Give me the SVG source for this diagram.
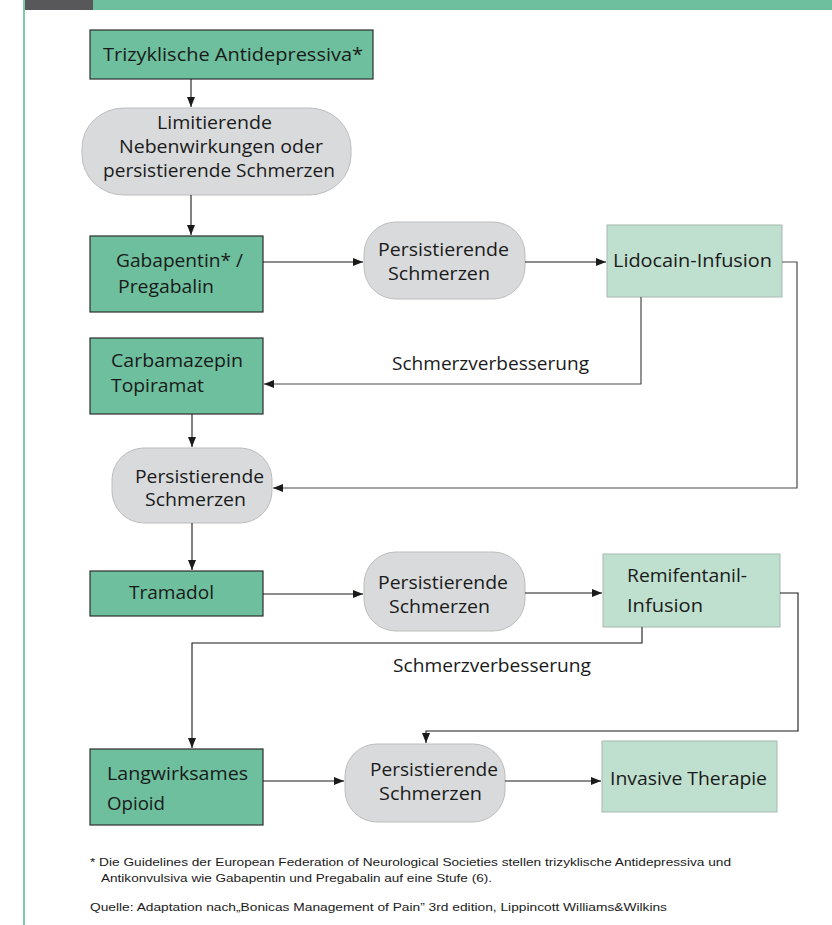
<svg xmlns="http://www.w3.org/2000/svg" width="832" height="925" viewBox="0 0 832 925">
<style>
.t{font-family:"Open Sans","Noto Sans",sans-serif;font-size:18.5px;fill:#1a1a1a}
.f{font-family:"Liberation Sans","DejaVu Sans",sans-serif;font-size:11.5px;fill:#1a1a1a}
.dg{fill:#6dbf9d;stroke:#2e2e2e;stroke-width:1.2}
.lg{fill:#bfe0cf;stroke:#a8b8ae;stroke-width:1}
.gr{fill:#d9dadc;stroke:#bdbdbd;stroke-width:1}
.c{fill:none;stroke:#1a1a1a;stroke-width:1.1}
.c2{fill:none;stroke:#4a4a4a;stroke-width:1.2}
</style>
<defs>
<marker id="ah" markerUnits="userSpaceOnUse" markerWidth="10" markerHeight="10" viewBox="0 0 10 10" refX="10" refY="5" orient="auto">
<path d="M0,1 L10,5 L0,9 Z" fill="#1a1a1a"/>
</marker>
</defs>
<rect x="0" y="0" width="832" height="925" fill="#ffffff"/>
<g id="frame">
<rect x="25" y="0" width="68" height="10" fill="#58585a"/>
<rect x="93" y="0" width="739" height="10" fill="#6dbf9d"/>
<rect x="23" y="0" width="2" height="925" fill="#7ccaa8"/>
</g>
<g id="n_trizyklisch">
<rect class="dg" x="90" y="30" width="283" height="49"/>
<text class="t" x="103" y="61" textLength="260" lengthAdjust="spacingAndGlyphs">Trizyklische Antidepressiva*</text>
</g>
<g id="n_limitierend">
<rect class="gr" x="82" y="108" width="269" height="87" rx="42" ry="40"/>
<text class="t" x="157" y="129" textLength="115" lengthAdjust="spacingAndGlyphs">Limitierende</text>
<text class="t" x="119" y="153" textLength="204" lengthAdjust="spacingAndGlyphs">Nebenwirkungen oder</text>
<text class="t" x="103" y="177" textLength="232" lengthAdjust="spacingAndGlyphs">persistierende Schmerzen</text>
</g>
<g id="n_gabapentin">
<rect class="dg" x="90" y="236" width="173" height="76"/>
<text class="t" x="116" y="267" textLength="127" lengthAdjust="spacingAndGlyphs">Gabapentin* /</text>
<text class="t" x="118" y="293" textLength="96" lengthAdjust="spacingAndGlyphs">Pregabalin</text>
</g>
<g id="n_p1">
<rect class="gr" x="364" y="222" width="161" height="77" rx="32" ry="32"/>
<text class="t" x="378" y="256" textLength="131" lengthAdjust="spacingAndGlyphs">Persistierende</text>
<text class="t" x="388" y="280" textLength="102" lengthAdjust="spacingAndGlyphs">Schmerzen</text>
</g>
<g id="n_lidocain">
<rect class="lg" x="607" y="225" width="175" height="72"/>
<text class="t" x="613" y="267" textLength="159" lengthAdjust="spacingAndGlyphs">Lidocain-Infusion</text>
</g>
<g id="n_carbamazepin">
<rect class="dg" x="90" y="338" width="173" height="76"/>
<text class="t" x="111" y="367" textLength="132" lengthAdjust="spacingAndGlyphs">Carbamazepin</text>
<text class="t" x="111" y="392" textLength="93" lengthAdjust="spacingAndGlyphs">Topiramat</text>
</g>
<g id="n_p2">
<rect class="gr" x="112" y="448" width="160" height="75" rx="32" ry="32"/>
<text class="t" x="135" y="483" textLength="129" lengthAdjust="spacingAndGlyphs">Persistierende</text>
<text class="t" x="145" y="506" textLength="101" lengthAdjust="spacingAndGlyphs">Schmerzen</text>
</g>
<g id="n_tramadol">
<rect class="dg" x="90" y="571" width="173" height="45"/>
<text class="t" x="129" y="599" textLength="85" lengthAdjust="spacingAndGlyphs">Tramadol</text>
</g>
<g id="n_p3">
<rect class="gr" x="364" y="552" width="161" height="79" rx="32" ry="32"/>
<text class="t" x="378" y="589" textLength="130" lengthAdjust="spacingAndGlyphs">Persistierende</text>
<text class="t" x="389" y="613" textLength="101" lengthAdjust="spacingAndGlyphs">Schmerzen</text>
</g>
<g id="n_remifentanil">
<rect class="lg" x="603" y="554" width="177" height="73"/>
<text class="t" x="627" y="582" textLength="120" lengthAdjust="spacingAndGlyphs">Remifentanil-</text>
<text class="t" x="627" y="612" textLength="76" lengthAdjust="spacingAndGlyphs">Infusion</text>
</g>
<g id="n_langwirksam">
<rect class="dg" x="90" y="749" width="173" height="76"/>
<text class="t" x="107" y="780" textLength="141" lengthAdjust="spacingAndGlyphs">Langwirksames</text>
<text class="t" x="107" y="810" textLength="58" lengthAdjust="spacingAndGlyphs">Opioid</text>
</g>
<g id="n_p4">
<rect class="gr" x="345" y="744" width="160" height="78" rx="32" ry="32"/>
<text class="t" x="370" y="776" textLength="128" lengthAdjust="spacingAndGlyphs">Persistierende</text>
<text class="t" x="379" y="800" textLength="103" lengthAdjust="spacingAndGlyphs">Schmerzen</text>
</g>
<g id="n_invasiv">
<rect class="lg" x="602" y="741" width="175" height="71"/>
<text class="t" x="610" y="785" textLength="157" lengthAdjust="spacingAndGlyphs">Invasive Therapie</text>
</g>
<g id="connectors">
<line class="c" x1="191" y1="79" x2="191" y2="107" marker-end="url(#ah)"/>
<line class="c" x1="191" y1="195" x2="191" y2="235" marker-end="url(#ah)"/>
<line class="c" x1="263" y1="262" x2="363" y2="262" marker-end="url(#ah)"/>
<line class="c" x1="525" y1="262" x2="606" y2="262" marker-end="url(#ah)"/>
<polyline class="c2" points="641,297 641,384 264,384" marker-end="url(#ah)"/>
<polyline class="c2" points="782,262 797,262 797,488 273,488" marker-end="url(#ah)"/>
<line class="c" x1="192" y1="414" x2="192" y2="447" marker-end="url(#ah)"/>
<line class="c" x1="192" y1="523" x2="192" y2="570" marker-end="url(#ah)"/>
<line class="c" x1="263" y1="594" x2="363" y2="594" marker-end="url(#ah)"/>
<line class="c" x1="525" y1="593" x2="602" y2="593" marker-end="url(#ah)"/>
<polyline class="c" points="642,627 642,643 192,643 192,748" marker-end="url(#ah)"/>
<polyline class="c" points="780,593 798,593 798,731 426,731 426,743" marker-end="url(#ah)"/>
<line class="c" x1="263" y1="781" x2="344" y2="781" marker-end="url(#ah)"/>
<line class="c" x1="505" y1="781" x2="601" y2="781" marker-end="url(#ah)"/>
<text class="t" x="392" y="370" textLength="197" lengthAdjust="spacingAndGlyphs">Schmerzverbesserung</text>
<text class="t" x="393" y="672" textLength="198" lengthAdjust="spacingAndGlyphs">Schmerzverbesserung</text>
</g>
<g id="footnote">
<text class="f" x="90" y="866" textLength="641" lengthAdjust="spacingAndGlyphs">* Die Guidelines der European Federation of Neurological Societies stellen trizyklische Antidepressiva und</text>
<text class="f" x="101" y="882" textLength="391" lengthAdjust="spacingAndGlyphs">Antikonvulsiva wie Gabapentin und Pregabalin auf eine Stufe (6).</text>
<text class="f" x="90" y="911" textLength="577" lengthAdjust="spacingAndGlyphs">Quelle: Adaptation nach„Bonicas Management of Pain” 3rd edition, Lippincott Williams&amp;Wilkins</text>
</g>
</svg>
